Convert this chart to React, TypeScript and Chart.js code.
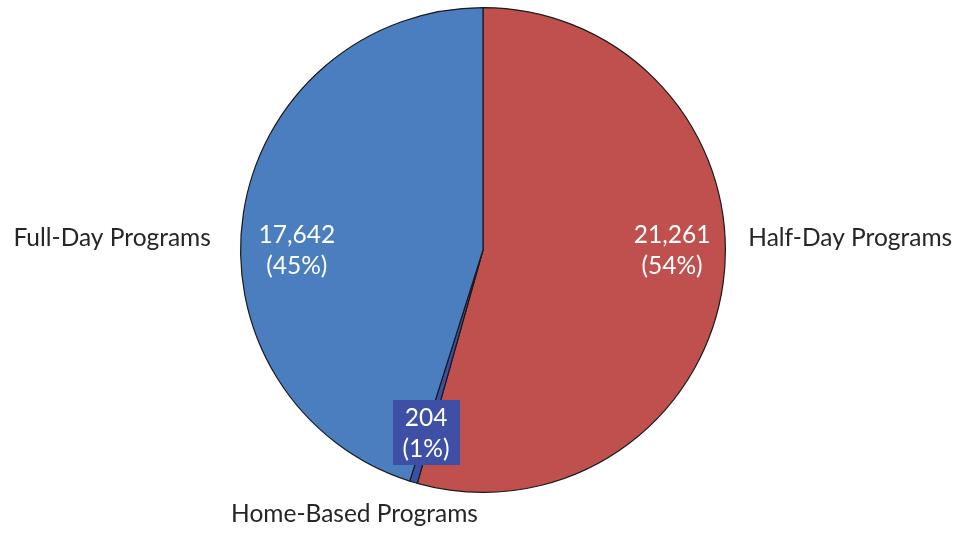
import React, { useEffect, useRef } from "react";
import { Chart, registerables } from "chart.js";

Chart.register(...registerables);

const categories = ["Half-Day Programs", "Home-Based Programs", "Full-Day Programs"];
const values = [21261, 204, 17642];
const percentLabels = ["54%", "1%", "45%"];
const colors = ["#c0504d", "#3b4fa6", "#4a7ebf"];

// label placement relative to pie centre, in units of radius
const valueLabelPos = [
  [0.78, 0.0],
  [-0.235, 0.755],
  [-0.768, 0.0],
];
const categoryLabelPos = [
  [1.515, -0.05],
  [-0.53, 1.09],
  [-1.53, -0.05],
];

const FONT = "Lato, 'Open Sans', sans-serif";

const labelPlugin = {
  id: "pieLabels",
  afterDatasetsDraw(chart: any) {
    const ctx = chart.ctx as CanvasRenderingContext2D;
    const meta = chart.getDatasetMeta(0);
    const arc0 = meta.data[0];
    const cx = arc0.x;
    const cy = arc0.y;
    const r = arc0.outerRadius;
    ctx.save();
    ctx.textAlign = "center";
    ctx.textBaseline = "middle";
    const fmt = new Intl.NumberFormat("en-US");
    values.forEach((v, i) => {
      const x = cx + valueLabelPos[i][0] * r;
      const y = cy + valueLabelPos[i][1] * r;
      ctx.font = `24.5px ${FONT}`;
      if (i === 1) {
        ctx.fillStyle = "#3d50a6";
        ctx.fillRect(x - 33, y - 33, 67, 65);
      }
      ctx.fillStyle = "#ffffff";
      ctx.fillText(fmt.format(v), x, y - 15);
      ctx.fillText(`(${percentLabels[i]})`, x, y + 16);
      ctx.fillStyle = "#262626";
      ctx.fillText(
        categories[i],
        cx + categoryLabelPos[i][0] * r,
        cy + categoryLabelPos[i][1] * r
      );
    });
    ctx.restore();
  },
};

export default function App() {
  const ref = useRef<HTMLCanvasElement>(null);
  useEffect(() => {
    if (!ref.current) return;
    const chart = new Chart(ref.current, {
      type: "pie",
      data: {
        labels: categories,
        datasets: [
          {
            data: values,
            backgroundColor: colors,
            borderColor: "#1a1a1a",
            borderWidth: 1.2,
          },
        ],
      },
      options: {
        animation: false,
        responsive: false,
        maintainAspectRatio: false,
        layout: { padding: { top: 7, bottom: 40, left: 5, right: 0 } },
        plugins: {
          legend: { display: false },
          tooltip: { enabled: false },
        },
      },
      plugins: [labelPlugin],
    });
    return () => chart.destroy();
  }, []);
  return (
    <div style={{ position: "absolute", left: 0, top: 0, width: 961, height: 533, background: "#fff" }}>
      <canvas ref={ref} width={961} height={533} style={{ width: 961, height: 533 }} />
    </div>
  );
}
